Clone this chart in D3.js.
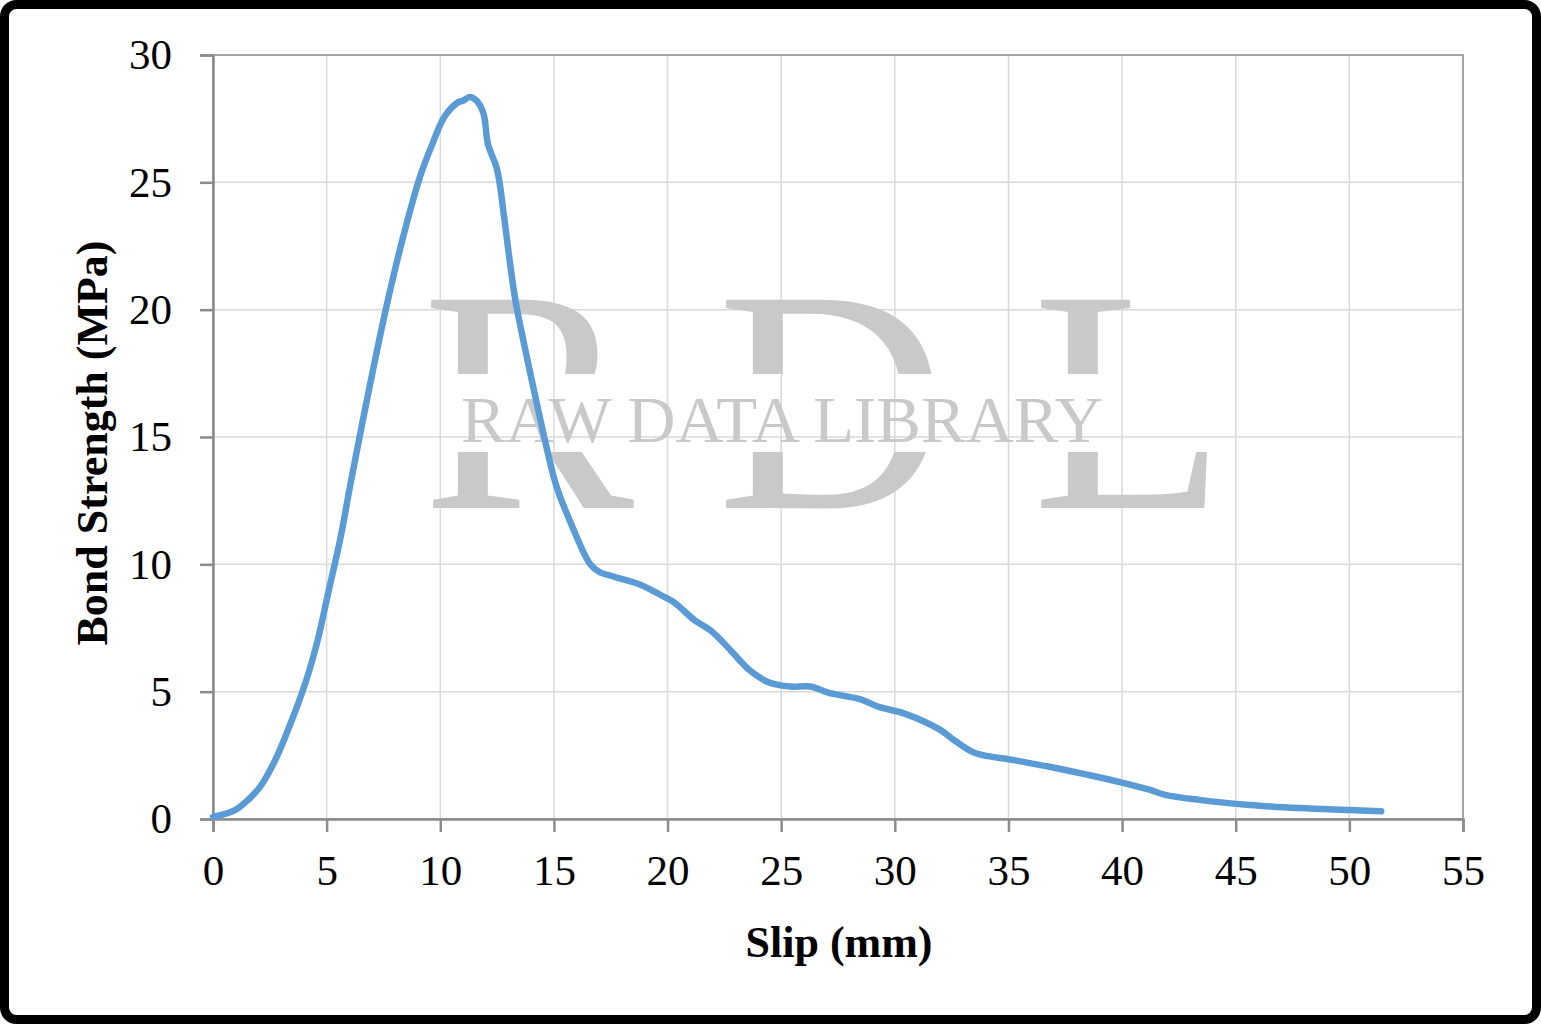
<!DOCTYPE html>
<html><head><meta charset="utf-8">
<script src="https://cdn.jsdelivr.net/npm/d3@7"></script>
<style>html,body{margin:0;padding:0;background:#fff;}svg{display:block;}</style>
</head><body>
<svg id="chart" width="1541" height="1025"></svg>
<script>
const slip = [0,0.97,1.54,2.07,2.73,3.39,4.05,4.6,5.1,5.6,6.1,6.85,7.6,8.35,9.1,9.65,10.2,10.8,11.0,11.3,11.6,11.9,12.1,12.5,12.8,13.0,13.3,13.7,14.3,14.7,15.1,15.8,16.6,17.0,17.7,18.8,19.9,20.3,21.2,21.9,22.8,23.6,24.5,25.4,26.3,27.1,28.5,29.3,30.4,32.0,32.6,33.5,35.3,36.8,38.4,39.9,41.2,41.9,43.4,45.6,47.8,50.0,51.4];
const strength = [0.08,0.35,0.75,1.26,2.3,3.7,5.3,7.0,9.0,11.0,13.4,16.8,20.0,22.8,25.2,26.5,27.6,28.15,28.2,28.35,28.2,27.7,26.5,25.5,23.7,22.3,20.4,18.6,16.1,14.5,13.1,11.5,10.0,9.7,9.5,9.2,8.7,8.5,7.8,7.4,6.6,5.85,5.35,5.2,5.2,4.95,4.7,4.4,4.15,3.5,3.1,2.6,2.3,2.05,1.75,1.45,1.15,0.95,0.75,0.55,0.43,0.35,0.3];
const xTicks = [0,5,10,15,20,25,30,35,40,45,50,55];
const yTicks = [0,5,10,15,20,25,30];
const xTitle = "Slip (mm)";
const yTitle = "Bond Strength (MPa)";

const svg = d3.select("#chart");
const L = 213, R = 1463, T = 55, B = 819;
const x = d3.scaleLinear().domain([0,55]).range([L,R]);
const y = d3.scaleLinear().domain([0,30]).range([B,T]);
const font = "'Liberation Serif','Times New Roman',serif";

// gridlines
svg.append("g").selectAll("line.gx").data(xTicks.slice(1,-1)).join("line")
  .attr("x1",d=>x(d)).attr("x2",d=>x(d)).attr("y1",T).attr("y2",B)
  .attr("stroke","#d9d9d9").attr("stroke-width",1.5);
svg.append("g").selectAll("line.gy").data(yTicks.slice(1,-1)).join("line")
  .attr("x1",L).attr("x2",R).attr("y1",d=>y(d)).attr("y2",d=>y(d))
  .attr("stroke","#d9d9d9").attr("stroke-width",1.5);

// watermark
const defs = svg.append("defs");
defs.append("clipPath").attr("id","wmclip").selectAll("rect")
  .data([[0,0,1541,374],[0,452,1541,600]]).join("rect")
  .attr("x",d=>d[0]).attr("y",d=>d[1]).attr("width",d=>d[2]).attr("height",d=>d[3]);
const wm = svg.append("g").attr("clip-path","url(#wmclip)");
[["R",422],["D",717],["L",1032]].forEach(([t,px])=>{
  wm.append("text").attr("x",px).attr("y",508).text(t)
    .attr("font-family",font).attr("font-size",318).attr("fill","#c9c9c9");
});
svg.append("text").attr("x",461).attr("y",442).text("RAW DATA LIBRARY")
  .attr("font-family",font).attr("font-size",66).attr("fill","#c9c9c9")
  .attr("textLength",642).attr("lengthAdjust","spacingAndGlyphs");

// plot frame
svg.append("rect").attr("x",L).attr("y",T).attr("width",R-L).attr("height",B-T)
  .attr("fill","none").attr("stroke","#a6a6a6").attr("stroke-width",2);

// axes
const xAxis = svg.append("g").attr("transform",`translate(0,${B})`)
  .call(d3.axisBottom(x).tickValues(xTicks).tickSize(13).tickPadding(22).tickFormat(d3.format("d")));
const yAxis = svg.append("g").attr("transform",`translate(${L},0)`)
  .call(d3.axisLeft(y).tickValues(yTicks).tickSize(13).tickPadding(28).tickFormat(d3.format("d")));
[xAxis,yAxis].forEach(a=>{
  a.select(".domain").attr("stroke","#8c8c8c").attr("stroke-width",2.5);
  a.selectAll(".tick line").attr("stroke","#8c8c8c").attr("stroke-width",2.5);
  a.selectAll(".tick text").attr("font-family",font).attr("font-size",43).attr("fill","#000");
});
yAxis.selectAll(".tick text").attr("dy","0.32em");

// line
svg.append("path").datum(slip.map((s,i)=>[s,strength[i]]))
  .attr("d",d3.line().x(d=>x(d[0])).y(d=>y(d[1])).curve(d3.curveCatmullRom))
  .attr("fill","none").attr("stroke","#5b9bd5").attr("stroke-width",6.5)
  .attr("stroke-linecap","round").attr("stroke-linejoin","round");

// titles
svg.append("text").attr("x",839).attr("y",957).attr("text-anchor","middle")
  .attr("font-family",font).attr("font-weight","bold").attr("font-size",44).text(xTitle);
svg.append("text").attr("transform",`translate(107,443) rotate(-90)`).attr("text-anchor","middle")
  .attr("font-family",font).attr("font-weight","bold").attr("font-size",44).text(yTitle);

// outer border
svg.append("rect").attr("x",4.5).attr("y",4.5).attr("width",1532).attr("height",1015)
  .attr("rx",12).attr("fill","none").attr("stroke","#000").attr("stroke-width",9);
</script>
</body></html>
